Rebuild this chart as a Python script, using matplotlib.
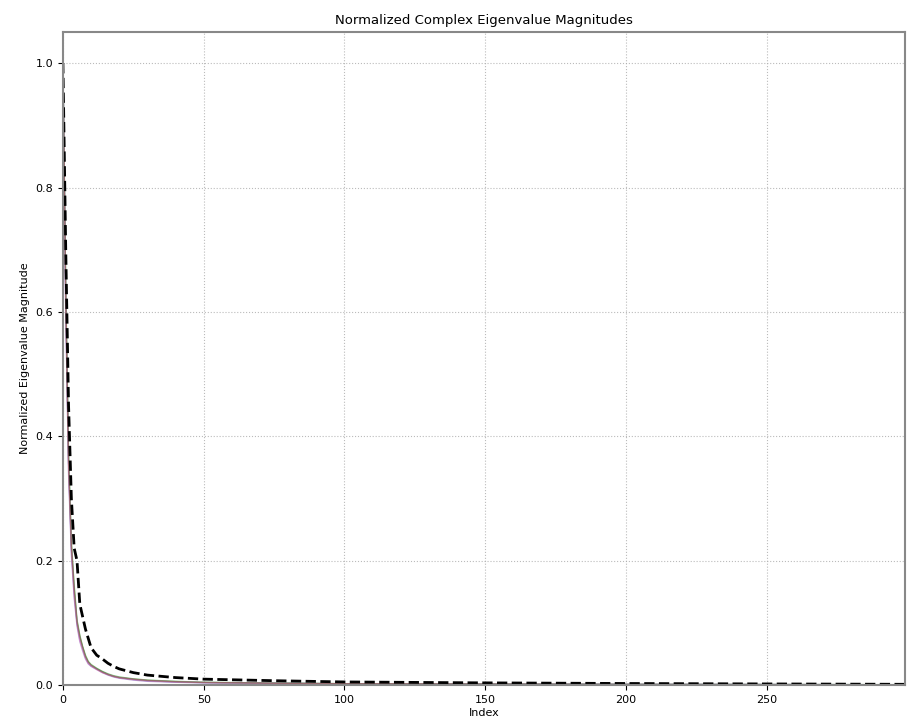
import numpy as np
import matplotlib.pyplot as plt

idx = [0, 1, 2, 3, 4, 5, 6, 7, 8, 9, 10, 12, 14, 16, 18, 20, 25, 30, 40, 50, 75, 100, 150, 200, 250, 299]

# individual runs (normalized eigenvalue magnitudes)
run_a = [1.0, 0.62, 0.36, 0.22, 0.15, 0.10, 0.075, 0.060, 0.045, 0.036, 0.031, 0.026, 0.021, 0.017, 0.014, 0.012, 0.009, 0.007, 0.005, 0.004, 0.003, 0.002, 0.0015, 0.001, 0.0008, 0.0005]
run_b = [1.0, 0.60, 0.34, 0.21, 0.14, 0.095, 0.070, 0.055, 0.042, 0.034, 0.030, 0.025, 0.020, 0.016, 0.013, 0.011, 0.008, 0.006, 0.0045, 0.0035, 0.0025, 0.0018, 0.0012, 0.0009, 0.0007, 0.0004]
run_c = [1.0, 0.64, 0.37, 0.23, 0.16, 0.105, 0.080, 0.062, 0.048, 0.038, 0.033, 0.027, 0.022, 0.018, 0.015, 0.013, 0.010, 0.008, 0.006, 0.0045, 0.0032, 0.0022, 0.0016, 0.0011, 0.0008, 0.0006]
run_d = [1.0, 0.61, 0.35, 0.22, 0.145, 0.10, 0.072, 0.058, 0.044, 0.035, 0.031, 0.025, 0.020, 0.017, 0.014, 0.012, 0.009, 0.007, 0.005, 0.004, 0.0028, 0.002, 0.0014, 0.001, 0.0007, 0.0005]
run_e = [1.0, 0.63, 0.36, 0.225, 0.155, 0.102, 0.078, 0.061, 0.046, 0.037, 0.032, 0.026, 0.021, 0.017, 0.014, 0.012, 0.0095, 0.0075, 0.0055, 0.0042, 0.003, 0.0021, 0.0015, 0.001, 0.0008, 0.0005]
runs = [run_a, run_b, run_c, run_d, run_e]
run_colors = ['tab:blue', 'tab:purple', 'tab:green', 'tab:pink', 'tab:brown']

# reference curve (dashed)
ref = [1.0, 0.70, 0.45, 0.30, 0.22, 0.20, 0.13, 0.11, 0.09, 0.075, 0.060, 0.048, 0.042, 0.035, 0.030, 0.026, 0.020, 0.016, 0.012, 0.0095, 0.007, 0.005, 0.0035, 0.0025, 0.0018, 0.0012]

fig = plt.figure(figsize=(9.12, 7.28), dpi=100)
ax = fig.add_axes([0.069, 0.059, 0.923, 0.897])

for r, c in zip(runs, run_colors):
    ax.plot(idx, r, color=c, lw=1.0, alpha=0.6)
ax.plot(idx, ref, 'k--', lw=2.0)

ax.set_xlim(0, 299)
ax.set_ylim(0, 1.05)
ax.set_xticks([0, 50, 100, 150, 200, 250])
ax.set_yticks([0.0, 0.2, 0.4, 0.6, 0.8, 1.0])
ax.tick_params(labelsize=8)
ax.grid(True, ls=':', color='#aaaaaa', alpha=0.8)
for s in ax.spines.values():
    s.set_color('#888888')
    s.set_linewidth(1.5)

ax.set_title('Normalized Complex Eigenvalue Magnitudes', fontsize=9.5)
ax.set_xlabel('Index', fontsize=8, labelpad=2)
ax.set_ylabel('Normalized Eigenvalue Magnitude', fontsize=8)

fig.savefig('out.png', dpi=100)
